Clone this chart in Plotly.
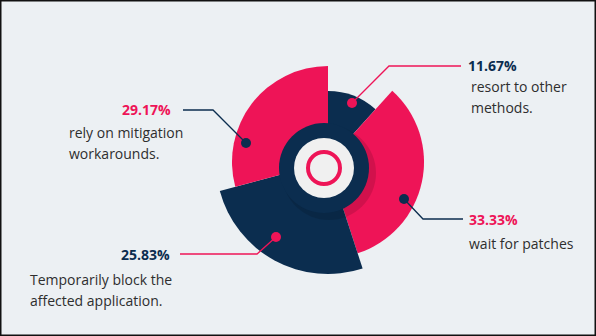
import plotly.graph_objects as go

# ---- data ----
percent_labels = ["11.67%", "33.33%", "25.83%", "29.17%"]
values = [11.67, 33.33, 25.83, 29.17]
descriptions = [
    ["resort to other", "methods."],
    ["wait for patches"],
    ["Temporarily block the", "affected application."],
    ["rely on mitigation", "workarounds."],
]

# ---- style ----
W, H = 596, 336
PINK = "#EE1457"
NAVY = "#0B2D4F"
BG = "#ECF0F3"
TXT = "#2E2E2E"
slice_colors = [NAVY, PINK, NAVY, PINK]
label_colors = [NAVY, PINK, NAVY, PINK]
slice_radius = [71, 96, 112, 96]   # decorative radii (px)
CX, CY = 328, 162                  # pie centre in px
R = 120

total = sum(values)
spans = [v / total * 360 for v in values]
mids, start = [], 0.0
for s in spans:
    mids.append(start + s / 2)
    start += s

fig = go.Figure()
fig.add_trace(go.Barpolar(
    r=slice_radius, theta=mids, width=spans, base=0,
    marker=dict(color=slice_colors, line=dict(width=0)),
    hoverinfo="skip", showlegend=False,
))

def px(x):
    return x / W

def py(y):
    return 1 - y / H

fig.update_layout(
    width=W, height=H, margin=dict(l=0, r=0, t=0, b=0),
    paper_bgcolor=BG, plot_bgcolor=BG, showlegend=False,
    polar=dict(
        domain=dict(x=[(CX - R) / W, (CX + R) / W], y=[py(CY + R), py(CY - R)]),
        bgcolor="rgba(0,0,0,0)",
        radialaxis=dict(visible=False, range=[0, R]),
        angularaxis=dict(visible=False, rotation=90, direction="clockwise"),
    ),
)

shapes = []

def circle(cx, cy, r, fill, line_color=None, lw=0):
    shapes.append(dict(
        type="circle", xref="paper", yref="paper", layer="above",
        x0=px(cx - r), x1=px(cx + r), y0=py(cy + r), y1=py(cy - r),
        fillcolor=fill, line=dict(color=line_color or fill, width=lw),
    ))

# centre decoration
circle(329, 173, 47, "rgba(0,0,0,0.12)")
circle(324, 168, 45, NAVY)
circle(324, 168, 30, "#F0F0F0")
circle(324, 168, 16, "rgba(0,0,0,0)", PINK, 4)

# leader lines: (dot x, dot y, elbow x, elbow y, end x)
leaders = [
    (352, 103, 389, 66, 461),
    (404, 199, 423, 219, 463),
    (276, 237, 257, 254, 180),
    (246, 143, 213, 110, 183),
]
line_colors = [PINK, NAVY, PINK, NAVY]
dot_colors = [PINK, NAVY, PINK, NAVY]
for (dx, dy, ex, ey, tx), lc, dc in zip(leaders, line_colors, dot_colors):
    shapes.append(dict(type="path", xref="paper", yref="paper", layer="above",
                       path=f"M {px(dx)},{py(dy)} L {px(ex)},{py(ey)} L {px(tx)},{py(ey)}",
                       line=dict(color=lc, width=1.3)))
    circle(dx, dy, 5, dc)

# frame
shapes.append(dict(type="rect", xref="paper", yref="paper", layer="above",
                   x0=0, x1=1, y0=0, y1=1, line=dict(color="#111111", width=3)))
fig.update_layout(shapes=shapes)

FONT = "Open Sans"
# (pct x, pct y, anchor, desc x, first desc line centre y)
text_pos = [
    (466, 66, "left", 469, 87),
    (467, 219, "left", 467, 243),
    (172, 254, "right", 28, 279),
    (173, 110, "right", 67, 133),
]
LINE_GAP = 21
anns = []
for (x, y, anc, dx, dy), pl, col, desc in zip(text_pos, percent_labels, label_colors, descriptions):
    anns.append(dict(x=px(x), y=py(y), xref="paper", yref="paper", text=f"<b>{pl}</b>",
                     showarrow=False, xanchor=anc, yanchor="middle",
                     font=dict(family=FONT, size=14, color=col)))
    for i, line in enumerate(desc):
        anns.append(dict(x=px(dx), y=py(dy + i * LINE_GAP), xref="paper", yref="paper",
                         text=line, showarrow=False, xanchor="left", yanchor="middle",
                         font=dict(family=FONT, size=14, color=TXT)))
fig.update_layout(annotations=anns)

fig.write_html("out.html")
